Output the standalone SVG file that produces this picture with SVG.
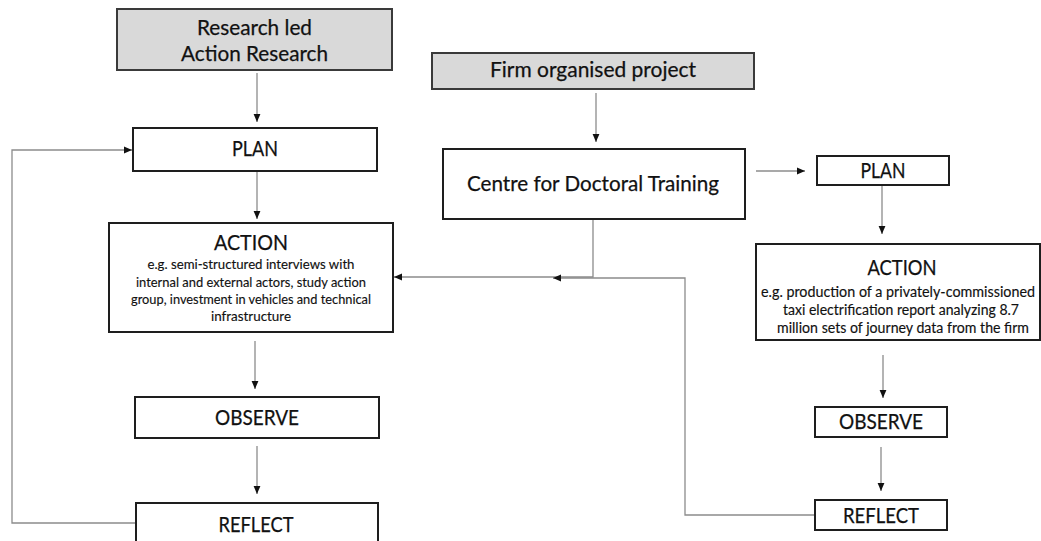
<svg xmlns="http://www.w3.org/2000/svg" width="1041" height="541" viewBox="0 0 1041 541">
  <defs>
    <marker id="arrow" viewBox="0 0 8 8" refX="8" refY="4" markerWidth="8" markerHeight="8" markerUnits="userSpaceOnUse" orient="auto">
      <path d="M0,0.6 L8,4 L0,7.4 Z" fill="#111"/>
    </marker>
    <style>
      .box { fill: #ffffff; stroke: #1e1e1e; stroke-width: 2; }
      .head { fill: #d9d9d9; stroke: #3a3a3a; stroke-width: 2; }
      .t { font-family: Lato, "Open Sans", "Liberation Sans", sans-serif; fill: #111; text-anchor: middle; stroke: #111; stroke-width: 0.25; }
      .big { font-size: 21px; }
      .act { font-size: 21px; }
      .sub { font-size: 13.5px; stroke-width: 0.15; }
      .sub2 { font-size: 14.5px; stroke-width: 0.15; }
      .link { fill: none; stroke: #8c8c8c; stroke-width: 1.3; }
      .arr { marker-end: url(#arrow); }
    </style>
  </defs>

  <rect width="1041" height="541" fill="#ffffff"/>

  <!-- connectors -->
  <g id="connectors">
    <line class="link arr" x1="257" y1="73" x2="257" y2="122"/>
    <line class="link arr" x1="257" y1="171" x2="257" y2="219"/>
    <line class="link arr" x1="255" y1="341" x2="255" y2="389"/>
    <line class="link arr" x1="257" y1="446" x2="257" y2="494"/>
    <path class="link arr" d="M136,523 H12 V150 H132"/>
    <line class="link arr" x1="596" y1="93" x2="596" y2="142"/>
    <path class="link arr" d="M593,219 V277 H394"/>
    <path class="link arr" d="M815,515 H685 V278 H553"/>
    <line class="link arr" x1="756" y1="171" x2="805" y2="171"/>
    <line class="link arr" x1="882" y1="185" x2="882" y2="234"/>
    <line class="link arr" x1="883" y1="355" x2="883" y2="398"/>
    <line class="link arr" x1="881" y1="447" x2="881" y2="491"/>
  </g>

  <!-- research led cycle -->
  <g id="research-led">
    <rect class="head" x="117" y="9" width="275" height="61"/>
    <text class="t big" x="254.5" y="35" textLength="115" lengthAdjust="spacingAndGlyphs">Research led</text>
    <text class="t big" x="254.5" y="61" textLength="147" lengthAdjust="spacingAndGlyphs">Action Research</text>
  </g>

  <g id="plan-left">
    <rect class="box" x="133" y="128" width="244" height="43"/>
    <text class="t big" x="255" y="156" textLength="46" lengthAdjust="spacingAndGlyphs">PLAN</text>
  </g>

  <g id="action-left">
    <rect class="box" x="109" y="223" width="284" height="109"/>
    <text class="t act" x="251" y="250" textLength="74" lengthAdjust="spacingAndGlyphs">ACTION</text>
    <text class="t sub" x="251" y="268.5" textLength="207" lengthAdjust="spacingAndGlyphs">e.g. semi-structured interviews with</text>
    <text class="t sub" x="251" y="286.5" textLength="230" lengthAdjust="spacingAndGlyphs">internal and external actors, study action</text>
    <text class="t sub" x="251" y="304" textLength="240" lengthAdjust="spacingAndGlyphs">group, investment in vehicles and technical</text>
    <text class="t sub" x="251" y="321" textLength="80" lengthAdjust="spacingAndGlyphs">infrastructure</text>
  </g>

  <g id="observe-left">
    <rect class="box" x="135" y="397" width="244" height="41"/>
    <text class="t big" x="257" y="425" textLength="84" lengthAdjust="spacingAndGlyphs">OBSERVE</text>
  </g>

  <g id="reflect-left">
    <rect class="box" x="136" y="503" width="242" height="45"/>
    <text class="t big" x="256" y="532" textLength="75" lengthAdjust="spacingAndGlyphs">REFLECT</text>
  </g>

  <!-- firm organised cycle -->
  <g id="firm-project">
    <rect class="head" x="432" y="53" width="322" height="36"/>
    <text class="t big" x="593" y="77" textLength="206" lengthAdjust="spacingAndGlyphs">Firm organised project</text>
  </g>

  <g id="cdt">
    <rect class="box" x="443" y="149" width="302" height="70"/>
    <text class="t big" x="593" y="191" textLength="252" lengthAdjust="spacingAndGlyphs">Centre for Doctoral Training</text>
  </g>

  <g id="plan-right">
    <rect class="box" x="817" y="156" width="132" height="29"/>
    <text class="t big" x="883" y="178" textLength="45" lengthAdjust="spacingAndGlyphs">PLAN</text>
  </g>

  <g id="action-right">
    <rect class="box" x="756" y="244" width="284" height="96"/>
    <text class="t act" x="902" y="275" textLength="69" lengthAdjust="spacingAndGlyphs">ACTION</text>
    <text class="t sub2" x="898" y="297" textLength="274" lengthAdjust="spacingAndGlyphs">e.g. production of a privately-commissioned</text>
    <text class="t sub2" x="901" y="315" textLength="236" lengthAdjust="spacingAndGlyphs">taxi electrification report analyzing 8.7</text>
    <text class="t sub2" x="903" y="333" textLength="252" lengthAdjust="spacingAndGlyphs">million sets of journey data from the firm</text>
  </g>

  <g id="observe-right">
    <rect class="box" x="815" y="407" width="132" height="30"/>
    <text class="t big" x="881" y="429" textLength="84" lengthAdjust="spacingAndGlyphs">OBSERVE</text>
  </g>

  <g id="reflect-right">
    <rect class="box" x="815" y="500" width="132" height="30"/>
    <text class="t big" x="881" y="523" textLength="76" lengthAdjust="spacingAndGlyphs">REFLECT</text>
  </g>
</svg>
